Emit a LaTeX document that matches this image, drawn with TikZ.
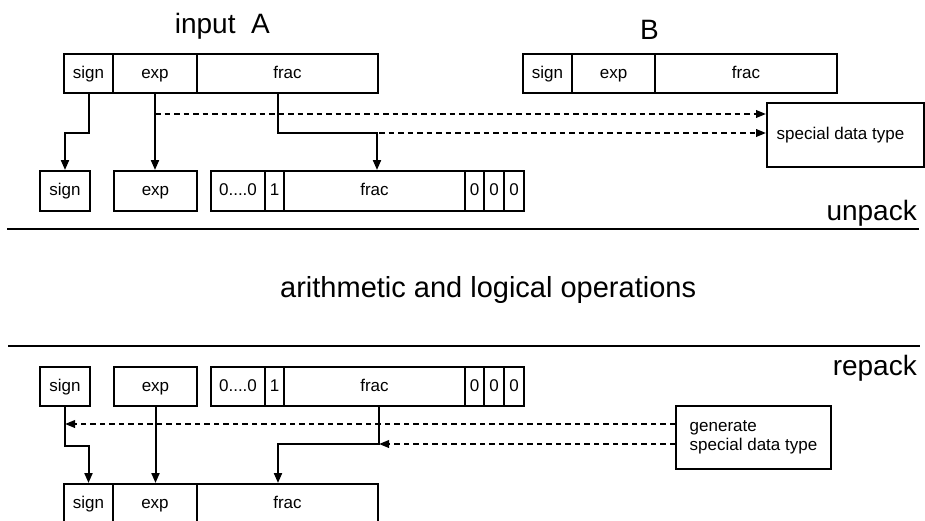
\documentclass[tikz,border=0pt]{standalone}
\usepackage{fontspec}
\setmainfont{Liberation Sans}
\usetikzlibrary{arrows.meta,calc}
\begin{document}
\begin{tikzpicture}[x=1pt,y=-1pt,
  cell/.style={draw, line width=2pt, inner sep=0, anchor=north west, minimum height=39pt, text height=12pt, text depth=2.5pt, font=\fontsize{17}{19}\selectfont},
  bigbox/.style={draw, line width=2pt, inner sep=0, anchor=north west, font=\fontsize{17}{19}\selectfont, align=left},
  arr/.style={line width=2pt, -{Triangle[length=10pt,width=8pt]}},
  dsh/.style={line width=2pt, dash pattern=on 5.5pt off 4pt, -{Triangle[length=10pt,width=7.5pt]}},
  sepline/.style={line width=2.5pt},
  biglbl/.style={inner sep=0, font=\fontsize{28}{30}\selectfont},
]
\useasboundingbox (0,0) rectangle (925,520);

% titles
\node[biglbl, anchor=base east] (inA) at (270,33) {input\ \ A};
\node[biglbl, anchor=base west] (inB) at (640,39) {B};

% input A
\node[cell, minimum width=49pt] (Asign) at (63,53) {sign};
\node[cell, minimum width=84pt] (Aexp) at (112,53) {exp};
\node[cell, minimum width=181pt] (Afrac) at (196,53) {frac};
% input B
\node[cell, minimum width=49pt] (Bsign) at (522,53) {sign};
\node[cell, minimum width=83pt] (Bexp) at (571,53) {exp};
\node[cell, minimum width=182pt] (Bfrac) at (654,53) {frac};

\node[bigbox, minimum width=157pt, minimum height=64pt] (special) at (766,102) {\hspace*{-10pt}\raisebox{-3pt}{special data type}};

% unpacked row
\node[cell, minimum width=50pt, minimum height=40pt] (Usign) at (39,170) {sign};
\node[cell, minimum width=83pt, minimum height=40pt] (Uexp) at (113,170) {exp};
\node[cell, minimum width=54pt, minimum height=40pt] (U0) at (210,170) {0....0};
\node[cell, minimum width=19pt, minimum height=40pt] (U1) at (264,170) {1};
\node[cell, minimum width=181pt, minimum height=40pt] (Ufrac) at (283,170) {frac};
\node[cell, minimum width=19pt, minimum height=40pt] (Uz1) at (464,170) {0};
\node[cell, minimum width=20pt, minimum height=40pt] (Uz2) at (483,170) {0};
\node[cell, minimum width=20pt, minimum height=40pt] (Uz3) at (503,170) {0};

% unpack connectors
\draw[arr] (Asign.south) -- ++(0,39) -| (Usign.north);
\draw[arr] (Aexp.south) -- (Aexp.south |- Uexp.north);
\draw[arr] ([xshift=82pt]Afrac.south west) -- ++(0,39) -| ([xshift=94pt]Ufrac.north west);
\coordinate (d1) at ($(Aexp.south)+(0,20)$);
\coordinate (d2) at ($(Afrac.south east)+(0,39)$);
\draw[dsh] (d1) -- (special.west |- d1);
\draw[dsh] (d2) -- (special.west |- d2);

\node[biglbl, anchor=base east] (unpack) at (917,220) {unpack};
\draw[sepline] (7,229) -- (919,229);

\node[biglbl, font=\fontsize{29}{31}\selectfont, anchor=base west] (ops) at (280,297) {arithmetic and logical operations};

\draw[sepline] (8,346) -- (920,346);
\node[biglbl, anchor=base east] (repack) at (917,375) {repack};

% repack top row
\node[cell, minimum width=50pt] (Rsign) at (39,366) {sign};
\node[cell, minimum width=83pt] (Rexp) at (113,366) {exp};
\node[cell, minimum width=54pt] (R0) at (210,366) {0....0};
\node[cell, minimum width=19pt] (R1) at (264,366) {1};
\node[cell, minimum width=181pt] (Rfrac) at (283,366) {frac};
\node[cell, minimum width=19pt] (Rz1) at (464,366) {0};
\node[cell, minimum width=20pt] (Rz2) at (483,366) {0};
\node[cell, minimum width=20pt] (Rz3) at (503,366) {0};

\node[bigbox, minimum width=155pt, minimum height=63pt] (gen) at (675,405) {generate\\special data type};

% repacked output
\node[cell, minimum width=49pt] (Ssign) at (63,483) {sign};
\node[cell, minimum width=84pt] (Sexp) at (112,483) {exp};
\node[cell, minimum width=181pt] (Sfrac) at (196,483) {frac};

% repack connectors
\coordinate (g1) at ($(gen.north west)+(0,19)$);
\coordinate (g2) at ($(gen.north west)+(0,39)$);
\draw[dsh] (g1) -- (g1 -| Rsign.south);
\draw[dsh] (g2) -- (g2 -| Sfrac.east);
\draw[arr] (Rsign.south) -- ++(0,39) -| (Ssign.north);
\draw[arr] (Rexp.south) -- (Rexp.south |- Sexp.north);
\draw[arr] (Sfrac.east |- Rfrac.south) -- (g2 -| Sfrac.east) -| ([xshift=82pt]Sfrac.north west);
\end{tikzpicture}
\end{document}
